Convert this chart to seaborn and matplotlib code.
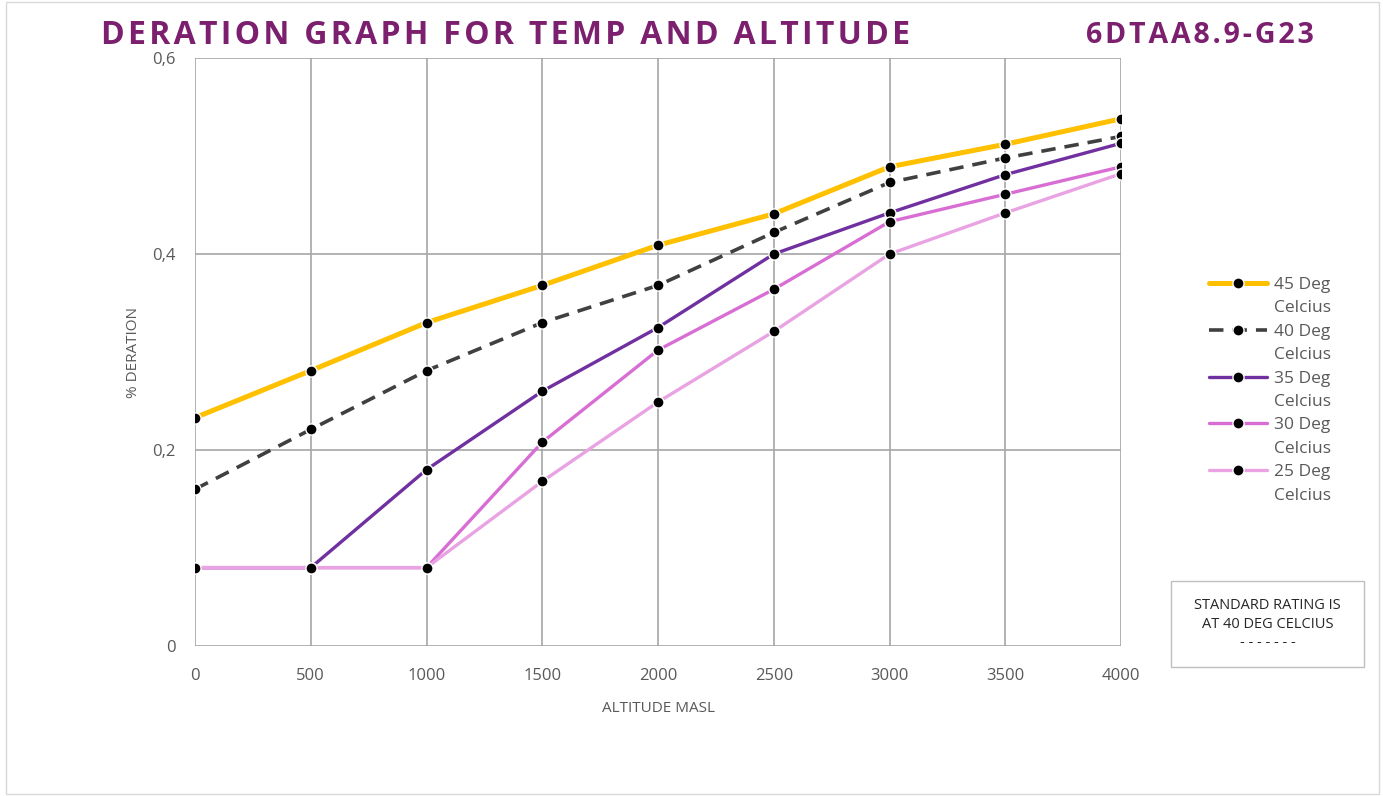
import matplotlib
matplotlib.use("Agg")
import matplotlib.pyplot as plt
import seaborn as sns
import pandas as pd
from matplotlib.patches import Rectangle
from matplotlib.lines import Line2D
from matplotlib.ticker import FuncFormatter

altitude = [0, 500, 1000, 1500, 2000, 2500, 3000, 3500, 4000]
deg45 = [0.233, 0.281, 0.330, 0.368, 0.409, 0.441, 0.489, 0.512, 0.538]
deg40 = [0.160, 0.221, 0.281, 0.330, 0.368, 0.422, 0.473, 0.498, 0.520]
deg35 = [0.080, 0.080, 0.180, 0.260, 0.325, 0.400, 0.442, 0.481, 0.513]
deg30 = [0.080, 0.080, 0.080, 0.208, 0.302, 0.364, 0.433, 0.461, 0.489]
deg25 = [0.080, 0.080, 0.080, 0.168, 0.249, 0.321, 0.400, 0.442, 0.482]

series_names = ["45 Deg", "40 Deg", "35 Deg", "30 Deg", "25 Deg"]
series_vals = [deg45, deg40, deg35, deg30, deg25]
colors = ["#FFC000", "#404040", "#7030A0", "#D86ED4", "#E9A3E3"]
widths = [3.6, 2.6, 2.4, 2.4, 2.4]
dashed = [False, True, False, False, False]

sns.set_style("white")
plt.rcParams['font.family'] = ['Open Sans', 'DejaVu Sans']

fig = plt.figure(figsize=(13.83, 7.96), dpi=100)
ax = fig.add_axes([0.141, 0.1884, 0.6696, 0.7387])

handles, labels = [], []
for name, vals, c, lw, d in zip(series_names, series_vals, colors, widths, dashed):
    df = pd.DataFrame({"altitude": altitude, "deration": vals})
    ls = (0, (4, 2.5)) if d else "-"
    sns.lineplot(data=df, x="altitude", y="deration", ax=ax, color=c,
                 linewidth=lw, linestyle=ls,
                 marker="o", markersize=8, markerfacecolor="black",
                 markeredgecolor="white", markeredgewidth=1.0)
    handles.append(Line2D([], [], color=c, linewidth=lw, linestyle=ls, marker="o",
                          markersize=8, markerfacecolor="black",
                          markeredgecolor="white", markeredgewidth=1.0))
    labels.append(name)
    handles.append(Line2D([], [], color="none"))
    labels.append("Celcius")

ax.set_xlim(0, 4000)
ax.set_ylim(0, 0.6)
ax.set_xticks(altitude)
ax.set_yticks([0, 0.2, 0.4, 0.6])
ax.yaxis.set_major_formatter(FuncFormatter(lambda v, p: "0" if v == 0 else f"{v:.1f}".replace(".", ",")))
ax.grid(True, color="#A6A6A6", linewidth=1.2)
for s in ax.spines.values():
    s.set_visible(False)
ax.tick_params(axis="both", colors="#595959", labelsize=12, length=0)
ax.tick_params(axis="x", pad=16)
ax.tick_params(axis="y", pad=14)
ax.set_xlabel("ALTITUDE MASL", color="#595959", fontsize=11, labelpad=12)
ax.set_ylabel("% DERATION", color="#595959", fontsize=11, labelpad=8)

leg = ax.legend(handles, labels, loc="upper left", bbox_to_anchor=(1.088, 0.64),
                frameon=False, fontsize=12.5, labelcolor="#595959", handlelength=3.3,
                labelspacing=0.42, handletextpad=0.4, borderaxespad=0)

hs = "\u200a"
title = hs.join("DERATION GRAPH FOR TEMP AND ALTITUDE")
fig.text(0.073, 0.955, title, color="#7B1F6E",
         fontsize=23, fontweight="bold", va="center", ha="left")
fig.text(0.785, 0.955, hs.join("6DTAA8.9-G23"), color="#7B1F6E",
         fontsize=20.5, fontweight="bold", va="center", ha="left")

fig.patches.append(Rectangle((0.847, 0.162), 0.139, 0.108, transform=fig.transFigure,
                             fill=False, edgecolor="#BFBFBF", linewidth=1))
fig.text(0.9165, 0.216, "STANDARD RATING IS\nAT 40 DEG CELCIUS\n- - - - - - -",
         ha="center", va="center", fontsize=10.5, color="#262626", linespacing=1.35)

fig.patches.append(Rectangle((0.004, 0.002), 0.993, 0.996, transform=fig.transFigure,
                             fill=False, edgecolor="#D9D9D9", linewidth=1))

fig.savefig("out.png", dpi=100)
